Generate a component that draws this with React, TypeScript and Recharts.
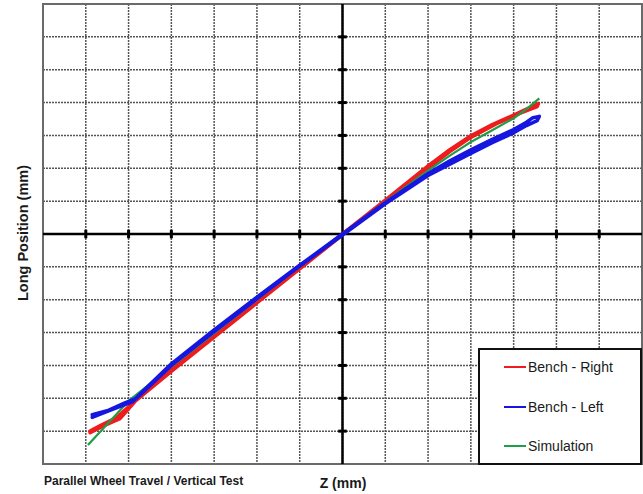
import React from "react";
import {
  LineChart,
  Line,
  XAxis,
  YAxis,
  CartesianGrid,
  ReferenceLine,
  ReferenceArea,
  Legend,
} from "recharts";

// Axis grid ticks (grid units, no labels shown in reference)
const gridTicks = [-7, -6, -5, -4, -3, -2, -1, 0, 1, 2, 3, 4, 5, 6, 7];
const axisMarkTicks = [-6, -5, -4, -3, -2, -1, 1, 2, 3, 4, 5, 6];

// Bench - Right (red): out-and-back hysteresis loop
const benchRightZ = [
  -5.9, -5.6, -5.2, -4.85, -4.0, -3.0, -2.0, -1.0, 0, 1.0, 2.0, 2.5, 3.0, 3.5, 4.0, 4.3, 4.58,
  4.55, 4.2, 3.6, 3.0, 2.5, 2.0, 1.0, 0, -1.0, -2.0, -3.0, -4.0, -4.9, -5.3, -5.65, -5.9,
];
const benchRightLong = [
  -6.05, -5.85, -5.62, -5.1, -4.1, -3.08, -2.05, -1.02, 0, 1.03, 2.07, 2.56, 2.99, 3.33, 3.62, 3.8, 3.97,
  3.88, 3.7, 3.36, 2.94, 2.5, 2.0, 0.99, -0.03, -1.06, -2.1, -3.14, -4.18, -5.15, -5.6, -5.82, -6.0,
];

// Bench - Left (blue)
const benchLeftZ = [
  -5.85, -5.5, -5.1, -4.85, -4.6, -4.0, -3.0, -2.0, -1.0, 0, 1.0, 2.0, 2.5, 3.0, 3.5, 4.0, 4.3, 4.45, 4.6,
  4.55, 4.3, 4.0, 3.5, 3.0, 2.5, 2.0, 1.0, 0, -1.0, -2.0, -3.0, -4.0, -4.65, -4.9, -5.3, -5.6, -5.85,
];
const benchLeftLong = [
  -5.5, -5.38, -5.15, -5.02, -4.7, -3.95, -2.92, -1.92, -0.95, 0, 0.95, 1.84, 2.22, 2.56, 2.88, 3.18, 3.4, 3.54, 3.58,
  3.45, 3.3, 3.08, 2.78, 2.45, 2.12, 1.78, 0.92, -0.03, -0.98, -1.97, -2.97, -4.0, -4.8, -5.1, -5.3, -5.45, -5.58,
];

// Simulation (green)
const simulationZ = [-5.95, -5.5, -5.0, -4.0, -3.0, -2.0, -1.0, 0, 1.0, 2.0, 2.5, 3.0, 3.5, 4.0, 4.3, 4.6];
const simulationLong = [-6.42, -5.79, -5.08, -4.04, -3.02, -2.0, -0.99, 0, 0.98, 1.93, 2.38, 2.8, 3.16, 3.52, 3.8, 4.13];

const seriesOrder = ["Bench - Right", "Bench - Left", "Simulation"];

const toPoints = (zs: number[], ls: number[]) => zs.map((z, i) => ({ z, long: ls[i] }));

const rightData = toPoints(benchRightZ, benchRightLong);
const leftData = toPoints(benchLeftZ, benchLeftLong);
const simData = toPoints(simulationZ, simulationLong);

const FONT = '"Liberation Sans", Arial, Helvetica, sans-serif';

const LegendBox = (props: any) => {
  const payload = (props.payload || []).slice().sort(
    (a: any, b: any) => seriesOrder.indexOf(a.value) - seriesOrder.indexOf(b.value)
  );
  const rowTops = [19, 59, 98];
  return (
    <div
      style={{
        width: 164,
        height: 117,
        boxSizing: "border-box",
        border: "2px solid #111",
        background: "#fff",
        position: "relative",
        fontFamily: FONT,
      }}
    >
      {payload.map((p: any, i: number) => (
        <div
          key={p.value}
          style={{
            position: "absolute",
            left: 24,
            top: rowTops[i] - 2 - 9,
            height: 18,
            display: "flex",
            alignItems: "center",
          }}
        >
          <div style={{ width: 22, height: 2.5, background: p.color }} />
          <span style={{ fontSize: 14, color: "#1a1a1a", marginLeft: 2, whiteSpace: "nowrap" }}>
            {p.value}
          </span>
        </div>
      ))}
    </div>
  );
};

export default function App() {
  return (
    <div style={{ position: "absolute", left: 0, top: 0, width: 643, height: 494, background: "#fff" }}>
      <LineChart width={643} height={494} margin={{ top: 4, right: 1, bottom: 30, left: 43 }}>
        <XAxis dataKey="z" type="number" domain={[-7, 7]} ticks={gridTicks} hide allowDataOverflow />
        <YAxis type="number" domain={[-7, 7]} ticks={gridTicks} hide allowDataOverflow />
        <CartesianGrid stroke="#555" strokeWidth={1.5} strokeDasharray="2 1" />
        <ReferenceArea x1={-7} x2={7} y1={-7} y2={7} fill="none" stroke="#6a6a6a" strokeWidth={2} fillOpacity={0} />
        <ReferenceLine x={0} stroke="#000" strokeWidth={2.5} />
        <ReferenceLine y={0} stroke="#000" strokeWidth={2.5} />
        {axisMarkTicks.map((t) => (
          <ReferenceLine
            key={"vx" + t}
            segment={[
              { x: -0.1, y: t },
              { x: 0.1, y: t },
            ]}
            stroke="#000"
            strokeWidth={3}
          />
        ))}
        {axisMarkTicks.map((t) => (
          <ReferenceLine
            key={"hx" + t}
            segment={[
              { x: t, y: -0.13 },
              { x: t, y: 0.13 },
            ]}
            stroke="#000"
            strokeWidth={3}
          />
        ))}
        <Line
          data={rightData}
          dataKey="long"
          name="Bench - Right"
          type="linear"
          stroke="#ee1c1c"
          strokeWidth={3.5}
          dot={false}
          strokeLinejoin="round"
          strokeLinecap="round"
          isAnimationActive={false}
        />
        <Line
          data={simData}
          dataKey="long"
          name="Simulation"
          type="linear"
          stroke="#1f9e4a"
          strokeWidth={2.2}
          dot={false}
          strokeLinejoin="round"
          isAnimationActive={false}
        />
        <Line
          data={leftData}
          dataKey="long"
          name="Bench - Left"
          type="linear"
          stroke="#1616e0"
          strokeWidth={3.5}
          dot={false}
          strokeLinejoin="round"
          strokeLinecap="round"
          isAnimationActive={false}
        />
        <Legend
          layout="vertical"
          align="center"
          verticalAlign="middle"
          content={<LegendBox />}
          wrapperStyle={{ left: 478, top: 348, width: 164, height: 117 }}
        />
      </LineChart>
      <div
        style={{
          position: "absolute",
          left: 23,
          top: 233,
          transform: "translate(-50%, -50%) rotate(-90deg)",
          fontFamily: FONT,
          fontWeight: "bold",
          fontSize: 14.5,
          color: "#1a1a1a",
          whiteSpace: "nowrap",
        }}
      >
        Long Position (mm)
      </div>
      <div
        style={{
          position: "absolute",
          left: 343,
          top: 483,
          transform: "translate(-50%, -50%)",
          fontFamily: FONT,
          fontWeight: "bold",
          fontSize: 14,
          color: "#1a1a1a",
          whiteSpace: "nowrap",
        }}
      >
        Z (mm)
      </div>
      <div
        style={{
          position: "absolute",
          left: 44,
          top: 481,
          transform: "translate(0, -50%)",
          fontFamily: FONT,
          fontWeight: "bold",
          fontSize: 12,
          color: "#1a1a1a",
          whiteSpace: "nowrap",
        }}
      >
        Parallel Wheel Travel / Vertical Test
      </div>
    </div>
  );
}
